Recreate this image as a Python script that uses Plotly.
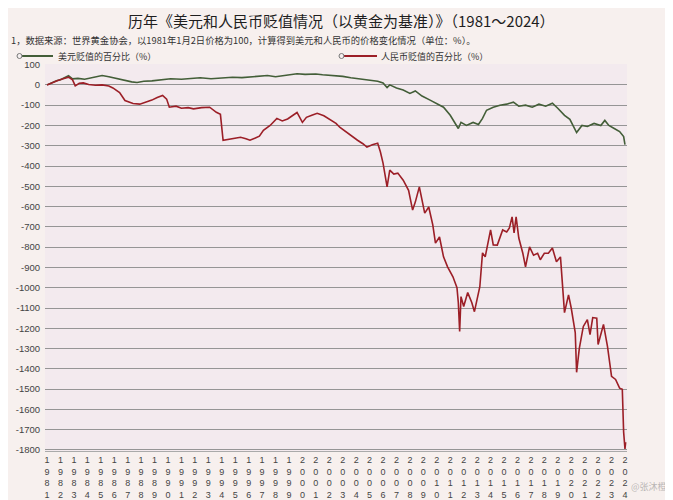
import plotly.graph_objects as go

years = list(range(1981, 2025))
tick_labels = ["<br>".join(str(y)) for y in years]

usd_years = [1981.0,1981.3,1981.7,1982.0,1982.4,1982.6,1982.9,1983.3,1983.8,1984.3,1984.8,1985.1,1985.6,1986.2,1986.8,1987.3,1987.7,1988.2,1988.8,1989.5,1990.2,1991.0,1991.8,1992.4,1993.2,1994.0,1994.8,1995.5,1996.3,1997.0,1997.4,1998.0,1998.8,1999.6,2000.2,2001.0,2001.5,2002.3,2003.0,2003.6,2004.3,2005.0,2005.6,2006.0,2006.3,2006.5,2007.0,2007.5,2008.0,2008.4,2008.9,2009.5,2010.0,2010.5,2011.0,2011.4,2011.6,2011.8,2012.2,2012.7,2013.1,2013.4,2013.7,2014.2,2014.7,2015.2,2015.7,2016.1,2016.6,2017.1,2017.6,2018.1,2018.6,2019.0,2019.5,2019.9,2020.2,2020.4,2020.8,2021.2,2021.7,2022.2,2022.5,2022.8,2023.2,2023.6,2023.9,2024.0]
usd_vals = [0,10,20,25,38,45,30,32,28,35,42,46,40,30,22,15,12,18,20,25,30,28,32,35,30,34,38,36,40,45,46,40,48,55,52,54,50,46,42,35,30,25,18,10,-13,0,-15,-25,-42,-30,-55,-75,-92,-110,-150,-190,-215,-185,-200,-185,-195,-165,-125,-110,-100,-95,-85,-105,-100,-110,-95,-105,-90,-115,-150,-170,-210,-235,-200,-205,-190,-200,-175,-200,-215,-230,-255,-295]

cny_years = [1981.0,1981.4,1981.8,1982.2,1982.6,1982.9,1983.1,1983.4,1983.7,1984.1,1984.6,1985.1,1985.6,1985.9,1986.4,1986.8,1987.1,1987.4,1987.9,1988.4,1988.8,1989.2,1989.6,1989.9,1990.1,1990.6,1991.0,1991.5,1991.9,1992.5,1993.1,1993.6,1993.9,1994.1,1994.6,1995.0,1995.4,1995.8,1996.1,1996.5,1996.8,1997.1,1997.6,1998.1,1998.5,1998.9,1999.3,1999.6,2000.0,2000.3,2000.7,2001.1,2001.6,2002.1,2002.5,2002.8,2003.3,2003.7,2004.1,2004.5,2004.8,2005.2,2005.6,2005.8,2006.0,2006.3,2006.5,2006.8,2007.1,2007.5,2007.9,2008.2,2008.4,2008.7,2008.9,2009.1,2009.4,2009.7,2009.9,2010.2,2010.5,2010.8,2011.2,2011.5,2011.6,2011.7,2011.8,2012.0,2012.3,2012.6,2012.8,2013.2,2013.4,2013.6,2014.0,2014.2,2014.5,2014.9,2015.2,2015.4,2015.6,2015.75,2015.9,2016.1,2016.4,2016.6,2016.9,2017.2,2017.5,2017.7,2018.0,2018.3,2018.6,2018.9,2019.2,2019.5,2019.8,2020.0,2020.3,2020.4,2020.6,2020.9,2021.2,2021.4,2021.6,2021.9,2022.0,2022.4,2022.7,2023.0,2023.3,2023.6,2023.8,2023.9,2024.0,2024.05]
cny_vals = [0,12,22,30,38,25,-5,8,10,2,-2,0,-5,-15,-38,-77,-85,-92,-95,-85,-75,-62,-52,-70,-110,-105,-115,-112,-118,-112,-110,-135,-145,-273,-268,-262,-258,-265,-273,-262,-253,-224,-200,-165,-178,-168,-150,-136,-185,-160,-150,-140,-152,-175,-190,-210,-235,-255,-273,-290,-307,-295,-288,-330,-386,-503,-420,-440,-435,-470,-520,-617,-578,-503,-560,-632,-602,-690,-780,-750,-848,-897,-946,-1000,-1073,-1216,-1044,-1093,-1024,-1073,-1118,-995,-828,-848,-715,-789,-790,-715,-725,-705,-651,-730,-651,-755,-830,-897,-799,-840,-830,-862,-830,-830,-804,-872,-848,-1123,-1035,-1100,-1221,-1417,-1300,-1191,-1157,-1231,-1147,-1150,-1280,-1181,-1290,-1437,-1452,-1495,-1501,-1712,-1795,-1761]

y_ticks = list(range(100, -1801, -100))

series_names = ["美元贬值的百分比（%）", "人民币贬值的百分比（%）"]
series_colors = ["#435e38", "#9c1f27"]

CJK = "Noto Sans CJK SC"

# page body has an 8px margin: the figure starts at (8, 8) in the screenshot
OFF = 8
W, H = 673 - OFF, 500 - OFF
# plot area in screenshot pixels
X0, X1, Y0, Y1 = 45, 627, 64, 451
ML, MR, MT, MB = X0 - OFF, W - (X1 - OFF), Y0 - OFF, H - (Y1 - OFF)
PW, PH = X1 - X0, Y1 - Y0


def px(x):
    return (x - X0) / PW


def py(y):
    return (Y1 - y) / PH


fig = go.Figure()
fig.add_trace(go.Scatter(x=usd_years, y=usd_vals, mode="lines", name=series_names[0],
                         line=dict(color=series_colors[0], width=1.6)))
fig.add_trace(go.Scatter(x=cny_years, y=cny_vals, mode="lines", name=series_names[1],
                         line=dict(color=series_colors[1], width=1.6)))

shapes = []
annotations = [
    dict(text="历年《美元和人民币贬值情况（以黄金为基准）》（1981～2024）",
         xref="paper", yref="paper", x=px(341), y=py(20), xanchor="center", yanchor="middle",
         showarrow=False, font=dict(family=CJK, size=15, color="#1e1e1e")),
    dict(text="1，数据来源：世界黄金协会，以1981年1月2日价格为100，计算得到美元和人民币的价格变化情况（单位：%）。",
         xref="paper", yref="paper", x=px(9), y=py(40), xanchor="left", yanchor="middle",
         showarrow=False, font=dict(family=CJK, size=9.3, color="#333")),
    dict(text="@张沐橙", xref="paper", yref="paper", x=px(668), y=py(486), xanchor="right",
         yanchor="middle", showarrow=False, borderpad=0,
         font=dict(family=CJK, size=9, color="rgba(120,120,120,0.5)")),
]
# legend drawn manually (line with small open circle at left end)
for (x0, x1, tx), name, col in zip([(20, 53, 56), (342, 377, 379)], series_names, series_colors):
    shapes.append(dict(type="line", xref="paper", yref="paper", x0=px(x0), x1=px(x1), y0=py(56), y1=py(56),
                       line=dict(color=col, width=2.2)))
    shapes.append(dict(type="circle", xref="paper", yref="paper", x0=px(x0 - 3), x1=px(x0 + 2),
                       y0=py(58.5), y1=py(53.5), line=dict(color="#777", width=1), fillcolor="#f5f0f0"))
    annotations.append(dict(text=name, xref="paper", yref="paper", x=px(tx), y=py(56),
                            xanchor="left", yanchor="middle", showarrow=False,
                            font=dict(family=CJK, size=9, color="#333")))

fig.update_layout(
    width=W, height=H,
    margin=dict(l=ML, r=MR, t=MT, b=MB, autoexpand=False),
    paper_bgcolor="#f7f0ee",
    plot_bgcolor="#f3eaee",
    font=dict(family=CJK, color="#333"),
    showlegend=False,
    shapes=shapes,
    annotations=annotations,
)

fig.update_xaxes(range=[1980.85, 2024.15], tickmode="array", tickvals=years, ticktext=tick_labels,
                 tickangle=0, tickfont=dict(family="Liberation Sans", size=9, color="#444"),
                 showgrid=False, zeroline=False, showline=True, linecolor="#aaa", linewidth=1,
                 ticks="", automargin=False)
fig.update_yaxes(range=[-1805, 103], tickmode="array", tickvals=y_ticks,
                 ticktext=[str(v) for v in y_ticks],
                 tickfont=dict(family="Liberation Sans", size=9.5, color="#444"),
                 showgrid=True, gridcolor="#959595", gridwidth=1, zeroline=False, showline=False,
                 ticks="outside", ticklen=2, tickcolor="rgba(0,0,0,0)", automargin=False)

fig.write_html("out.html")
